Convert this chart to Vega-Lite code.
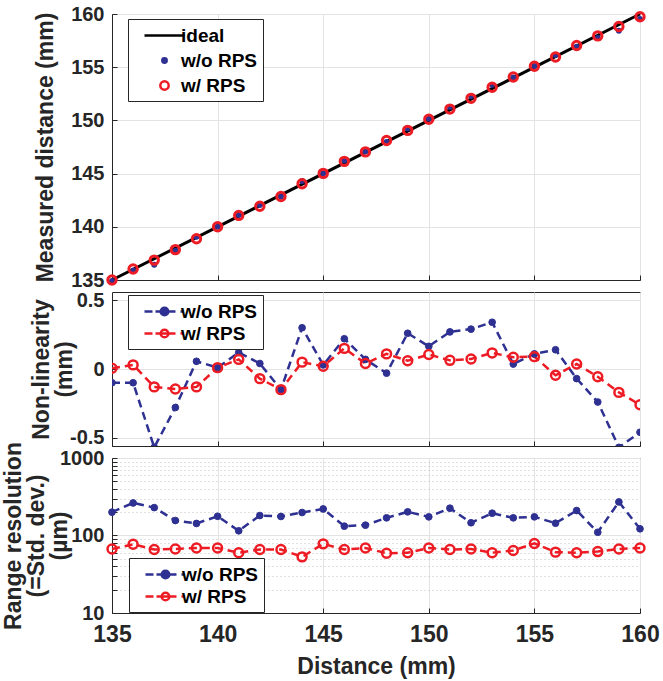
{
  "$schema": "https://vega.github.io/schema/vega-lite/v6.json",
  "background": "white",
  "padding": {"left": 1, "top": 3, "right": 6, "bottom": 2},
  "spacing": 12,
  "bounds": "flush",
  "datasets": {
    "ideal": [{"d": 135, "v": 135, "s": "ideal"}, {"d": 160, "v": 160, "s": "ideal"}],
    "meas": [
      {"d": 135, "s": "w/o RPS", "v": 134.90}, {"d": 136, "s": "w/o RPS", "v": 135.90}, {"d": 137, "s": "w/o RPS", "v": 136.43}, {"d": 138, "s": "w/o RPS", "v": 137.72}, {"d": 139, "s": "w/o RPS", "v": 139.056}, {"d": 140, "s": "w/o RPS", "v": 140.01}, {"d": 141, "s": "w/o RPS", "v": 141.12}, {"d": 142, "s": "w/o RPS", "v": 142.04}, {"d": 143, "s": "w/o RPS", "v": 142.85}, {"d": 144, "s": "w/o RPS", "v": 144.30}, {"d": 145, "s": "w/o RPS", "v": 145.03}, {"d": 146, "s": "w/o RPS", "v": 146.22}, {"d": 147, "s": "w/o RPS", "v": 147.07}, {"d": 148, "s": "w/o RPS", "v": 147.97}, {"d": 149, "s": "w/o RPS", "v": 149.26}, {"d": 150, "s": "w/o RPS", "v": 150.165}, {"d": 151, "s": "w/o RPS", "v": 151.27}, {"d": 152, "s": "w/o RPS", "v": 152.29}, {"d": 153, "s": "w/o RPS", "v": 153.34}, {"d": 154, "s": "w/o RPS", "v": 154.036}, {"d": 155, "s": "w/o RPS", "v": 155.11}, {"d": 156, "s": "w/o RPS", "v": 156.14}, {"d": 157, "s": "w/o RPS", "v": 156.93}, {"d": 158, "s": "w/o RPS", "v": 157.76}, {"d": 159, "s": "w/o RPS", "v": 158.43}, {"d": 160, "s": "w/o RPS", "v": 159.54},
      {"d": 135, "s": "w/ RPS", "v": 135.005}, {"d": 136, "s": "w/ RPS", "v": 136.03}, {"d": 137, "s": "w/ RPS", "v": 136.87}, {"d": 138, "s": "w/ RPS", "v": 137.855}, {"d": 139, "s": "w/ RPS", "v": 138.87}, {"d": 140, "s": "w/ RPS", "v": 140.01}, {"d": 141, "s": "w/ RPS", "v": 141.07}, {"d": 142, "s": "w/ RPS", "v": 141.93}, {"d": 143, "s": "w/ RPS", "v": 142.85}, {"d": 144, "s": "w/ RPS", "v": 144.05}, {"d": 145, "s": "w/ RPS", "v": 145.02}, {"d": 146, "s": "w/ RPS", "v": 146.15}, {"d": 147, "s": "w/ RPS", "v": 147.04}, {"d": 148, "s": "w/ RPS", "v": 148.11}, {"d": 149, "s": "w/ RPS", "v": 149.06}, {"d": 150, "s": "w/ RPS", "v": 150.105}, {"d": 151, "s": "w/ RPS", "v": 151.063}, {"d": 152, "s": "w/ RPS", "v": 152.073}, {"d": 153, "s": "w/ RPS", "v": 153.117}, {"d": 154, "s": "w/ RPS", "v": 154.085}, {"d": 155, "s": "w/ RPS", "v": 155.09}, {"d": 156, "s": "w/ RPS", "v": 155.954}, {"d": 157, "s": "w/ RPS", "v": 157.036}, {"d": 158, "s": "w/ RPS", "v": 157.944}, {"d": 159, "s": "w/ RPS", "v": 158.83}, {"d": 160, "s": "w/ RPS", "v": 159.74}
    ],
    "nl": [
      {"d": 135, "s": "w/o RPS", "v": -0.10}, {"d": 136, "s": "w/o RPS", "v": -0.10}, {"d": 137, "s": "w/o RPS", "v": -0.57}, {"d": 138, "s": "w/o RPS", "v": -0.28}, {"d": 139, "s": "w/o RPS", "v": 0.056}, {"d": 140, "s": "w/o RPS", "v": 0.01}, {"d": 141, "s": "w/o RPS", "v": 0.12}, {"d": 142, "s": "w/o RPS", "v": 0.04}, {"d": 143, "s": "w/o RPS", "v": -0.15}, {"d": 144, "s": "w/o RPS", "v": 0.30}, {"d": 145, "s": "w/o RPS", "v": 0.03}, {"d": 146, "s": "w/o RPS", "v": 0.22}, {"d": 147, "s": "w/o RPS", "v": 0.07}, {"d": 148, "s": "w/o RPS", "v": -0.03}, {"d": 149, "s": "w/o RPS", "v": 0.26}, {"d": 150, "s": "w/o RPS", "v": 0.165}, {"d": 151, "s": "w/o RPS", "v": 0.27}, {"d": 152, "s": "w/o RPS", "v": 0.29}, {"d": 153, "s": "w/o RPS", "v": 0.34}, {"d": 154, "s": "w/o RPS", "v": 0.036}, {"d": 155, "s": "w/o RPS", "v": 0.11}, {"d": 156, "s": "w/o RPS", "v": 0.14}, {"d": 157, "s": "w/o RPS", "v": -0.07}, {"d": 158, "s": "w/o RPS", "v": -0.24}, {"d": 159, "s": "w/o RPS", "v": -0.57}, {"d": 160, "s": "w/o RPS", "v": -0.46},
      {"d": 135, "s": "w/ RPS", "v": 0.005}, {"d": 136, "s": "w/ RPS", "v": 0.03}, {"d": 137, "s": "w/ RPS", "v": -0.13}, {"d": 138, "s": "w/ RPS", "v": -0.145}, {"d": 139, "s": "w/ RPS", "v": -0.13}, {"d": 140, "s": "w/ RPS", "v": 0.01}, {"d": 141, "s": "w/ RPS", "v": 0.07}, {"d": 142, "s": "w/ RPS", "v": -0.07}, {"d": 143, "s": "w/ RPS", "v": -0.15}, {"d": 144, "s": "w/ RPS", "v": 0.05}, {"d": 145, "s": "w/ RPS", "v": 0.02}, {"d": 146, "s": "w/ RPS", "v": 0.15}, {"d": 147, "s": "w/ RPS", "v": 0.04}, {"d": 148, "s": "w/ RPS", "v": 0.11}, {"d": 149, "s": "w/ RPS", "v": 0.06}, {"d": 150, "s": "w/ RPS", "v": 0.105}, {"d": 151, "s": "w/ RPS", "v": 0.063}, {"d": 152, "s": "w/ RPS", "v": 0.073}, {"d": 153, "s": "w/ RPS", "v": 0.117}, {"d": 154, "s": "w/ RPS", "v": 0.085}, {"d": 155, "s": "w/ RPS", "v": 0.09}, {"d": 156, "s": "w/ RPS", "v": -0.046}, {"d": 157, "s": "w/ RPS", "v": 0.036}, {"d": 158, "s": "w/ RPS", "v": -0.056}, {"d": 159, "s": "w/ RPS", "v": -0.17}, {"d": 160, "s": "w/ RPS", "v": -0.26}
    ],
    "res": [
      {"d": 135, "s": "w/o RPS", "v": 200}, {"d": 136, "s": "w/o RPS", "v": 263}, {"d": 137, "s": "w/o RPS", "v": 229}, {"d": 138, "s": "w/o RPS", "v": 156}, {"d": 139, "s": "w/o RPS", "v": 143}, {"d": 140, "s": "w/o RPS", "v": 177}, {"d": 141, "s": "w/o RPS", "v": 115}, {"d": 142, "s": "w/o RPS", "v": 181}, {"d": 143, "s": "w/o RPS", "v": 176}, {"d": 144, "s": "w/o RPS", "v": 198}, {"d": 145, "s": "w/o RPS", "v": 220}, {"d": 146, "s": "w/o RPS", "v": 132}, {"d": 147, "s": "w/o RPS", "v": 136}, {"d": 148, "s": "w/o RPS", "v": 169}, {"d": 149, "s": "w/o RPS", "v": 202}, {"d": 150, "s": "w/o RPS", "v": 174}, {"d": 151, "s": "w/o RPS", "v": 225}, {"d": 152, "s": "w/o RPS", "v": 146}, {"d": 153, "s": "w/o RPS", "v": 194}, {"d": 154, "s": "w/o RPS", "v": 169}, {"d": 155, "s": "w/o RPS", "v": 174}, {"d": 156, "s": "w/o RPS", "v": 144}, {"d": 157, "s": "w/o RPS", "v": 210}, {"d": 158, "s": "w/o RPS", "v": 110}, {"d": 159, "s": "w/o RPS", "v": 271}, {"d": 160, "s": "w/o RPS", "v": 122},
      {"d": 135, "s": "w/ RPS", "v": 67}, {"d": 136, "s": "w/ RPS", "v": 77}, {"d": 137, "s": "w/ RPS", "v": 66}, {"d": 138, "s": "w/ RPS", "v": 67}, {"d": 139, "s": "w/ RPS", "v": 69}, {"d": 140, "s": "w/ RPS", "v": 69}, {"d": 141, "s": "w/ RPS", "v": 60}, {"d": 142, "s": "w/ RPS", "v": 66}, {"d": 143, "s": "w/ RPS", "v": 66}, {"d": 144, "s": "w/ RPS", "v": 53}, {"d": 145, "s": "w/ RPS", "v": 78}, {"d": 146, "s": "w/ RPS", "v": 66}, {"d": 147, "s": "w/ RPS", "v": 69}, {"d": 148, "s": "w/ RPS", "v": 59}, {"d": 149, "s": "w/ RPS", "v": 60}, {"d": 150, "s": "w/ RPS", "v": 69}, {"d": 151, "s": "w/ RPS", "v": 66}, {"d": 152, "s": "w/ RPS", "v": 67}, {"d": 153, "s": "w/ RPS", "v": 60}, {"d": 154, "s": "w/ RPS", "v": 64}, {"d": 155, "s": "w/ RPS", "v": 79}, {"d": 156, "s": "w/ RPS", "v": 61}, {"d": 157, "s": "w/ RPS", "v": 60}, {"d": 158, "s": "w/ RPS", "v": 62}, {"d": 159, "s": "w/ RPS", "v": 67}, {"d": 160, "s": "w/ RPS", "v": 69}
    ]
  },
  "config": {
    "font": "Liberation Sans",
    "view": {"stroke": "#262626", "strokeWidth": 1},
    "axis": {
      "labelFontSize": 20, "labelFontWeight": "bold", "labelColor": "#262626",
      "titleFontSize": 23, "titleFontWeight": "bold", "titleColor": "#262626",
      "domainColor": "#262626", "tickColor": "#262626", "gridColor": "#e3e3e3",
      "tickSize": -5, "labelPadding": 13, "labelOverlap": false, "labelFlush": false, "titleLineHeight": 23
    },
    "legend": {
      "symbolSize": 400, "symbolOffset": 20, "labelOffset": 5,
      "padding": 5, "strokeColor": "#262626", "fillColor": "white",
      "labelFontSize": 19, "labelFontWeight": "bold", "labelColor": "#000000",
      "symbolStrokeWidth": 2.5, "symbolOpacity": 1
    }
  },
  "vconcat": [
    {
      "width": 528, "height": 266,
      "layer": [
        {
          "data": {"name": "ideal"},
          "mark": {"type": "line", "strokeWidth": 3},
          "encoding": {
            "x": {"field": "d", "type": "quantitative", "scale": {"domain": [135, 160], "nice": false, "zero": false}, "axis": {"values": [135, 140, 145, 150, 155, 160], "labels": false, "title": null}},
            "y": {"field": "v", "type": "quantitative", "scale": {"domain": [135, 160], "nice": false, "zero": false}, "axis": {"values": [135, 140, 145, 150, 155, 160], "title": "Measured distance (mm)", "titleX": -55}},
            "stroke": {"field": "s", "type": "nominal", "scale": {"domain": ["ideal", "w/o RPS", "w/ RPS"], "range": ["#000000", "#2E3192", "#ED1C24"]},
              "legend": {"orient": "none", "legendX": 16, "legendY": 5, "rowPadding": 3, "title": null}}
          }
        },
        {
          "data": {"name": "meas"},
          "transform": [{"filter": "datum.s == 'w/o RPS'"}],
          "mark": {"type": "point", "size": 400, "strokeWidth": 1.5, "opacity": 1},
          "encoding": {
            "x": {"field": "d", "type": "quantitative"},
            "y": {"field": "v", "type": "quantitative"},
            "stroke": {"field": "s", "type": "nominal"},
            "fill": {"field": "s", "type": "nominal", "scale": {"domain": ["ideal", "w/o RPS", "w/ RPS"], "range": ["transparent", "#2E3192", "transparent"]}, "legend": {"orient": "none", "legendX": 16, "legendY": 5, "rowPadding": 3, "title": null}},
            "shape": {"field": "s", "type": "nominal", "scale": {"domain": ["ideal", "w/o RPS", "w/ RPS"], "range": ["M-2,0L2,0", "M0.22,0A0.22,0.22,0,1,1,-0.22,0A0.22,0.22,0,1,1,0.22,0Z", "M0.42,0A0.42,0.42,0,1,1,-0.42,0A0.42,0.42,0,1,1,0.42,0Z"]}, "legend": {"orient": "none", "legendX": 16, "legendY": 5, "rowPadding": 3, "title": null}}
          }
        },
        {
          "data": {"name": "meas"},
          "transform": [{"filter": "datum.s == 'w/ RPS'"}],
          "mark": {"type": "point", "size": 400, "strokeWidth": 3, "opacity": 1},
          "encoding": {
            "x": {"field": "d", "type": "quantitative"},
            "y": {"field": "v", "type": "quantitative"},
            "stroke": {"field": "s", "type": "nominal"},
            "fill": {"field": "s", "type": "nominal"},
            "shape": {"field": "s", "type": "nominal"}
          }
        }
      ]
    },
    {
      "width": 528, "height": 154,
      "layer": [
        {
          "data": {"name": "nl"},
          "mark": {"type": "line", "strokeWidth": 2.5, "strokeDash": [8, 5], "clip": true},
          "encoding": {
            "x": {"field": "d", "type": "quantitative", "scale": {"domain": [135, 160], "nice": false, "zero": false}, "axis": {"values": [135, 140, 145, 150, 155, 160], "labels": false, "title": null}},
            "y": {"field": "v", "type": "quantitative", "scale": {"domain": [-0.56, 0.56], "nice": false, "zero": false}, "axis": {"values": [-0.5, 0, 0.5], "labelExpr": "toString(datum.value)", "title": ["Non-linearity", "(mm)"], "titleX": -59}},
            "stroke": {"field": "s", "type": "nominal", "scale": {"domain": ["w/o RPS", "w/ RPS"], "range": ["#2E3192", "#ED1C24"]},
              "legend": {"orient": "none", "legendX": 16, "legendY": 3, "rowPadding": 0, "title": null, "symbolType": "M-2,0L-1.2,0M-0.9,0L1.1,0M1.6,0L1.9,0M0.38,0A0.38,0.38,0,1,1,-0.38,0A0.38,0.38,0,1,1,0.38,0Z", "symbolDash": []}}
          }
        },
        {
          "data": {"name": "nl"},
          "transform": [{"filter": "datum.s == 'w/o RPS'"}],
          "mark": {"type": "point", "size": 45, "strokeWidth": 1, "opacity": 1, "clip": true},
          "encoding": {
            "x": {"field": "d", "type": "quantitative"},
            "y": {"field": "v", "type": "quantitative"},
            "stroke": {"field": "s", "type": "nominal"},
            "fill": {"field": "s", "type": "nominal", "scale": {"domain": ["w/o RPS", "w/ RPS"], "range": ["#2E3192", "transparent"]}, "legend": {"orient": "none", "legendX": 16, "legendY": 3, "rowPadding": 0, "title": null, "symbolType": "M-2,0L-1.2,0M-0.9,0L1.1,0M1.6,0L1.9,0M0.38,0A0.38,0.38,0,1,1,-0.38,0A0.38,0.38,0,1,1,0.38,0Z", "symbolDash": []}}
          }
        },
        {
          "data": {"name": "nl"},
          "transform": [{"filter": "datum.s == 'w/ RPS'"}],
          "mark": {"type": "point", "size": 80, "strokeWidth": 2.5, "opacity": 1, "clip": true},
          "encoding": {
            "x": {"field": "d", "type": "quantitative"},
            "y": {"field": "v", "type": "quantitative"},
            "stroke": {"field": "s", "type": "nominal"},
            "fill": {"field": "s", "type": "nominal"}
          }
        }
      ]
    },
    {
      "width": 528, "height": 155,
      "layer": [
        {
          "data": {"name": "res"},
          "mark": {"type": "line", "strokeWidth": 2.5, "strokeDash": [8, 5]},
          "encoding": {
            "x": {"field": "d", "type": "quantitative", "scale": {"domain": [135, 160], "nice": false, "zero": false}, "axis": {"values": [135, 140, 145, 150, 155, 160], "labelFontSize": 23, "labelPadding": 15, "title": "Distance (mm)", "titlePadding": 9}},
            "y": {"field": "v", "type": "quantitative", "scale": {"type": "log", "domain": [10, 1000], "nice": false}, "axis": {
              "values": [10, 20, 30, 40, 50, 60, 70, 80, 90, 100, 200, 300, 400, 500, 600, 700, 800, 900, 1000],
              "labelExpr": "(datum.value == 10 || datum.value == 100 || datum.value == 1000) ? toString(datum.value) : ''",
              "gridDash": {"condition": {"test": "datum.value == 10 || datum.value == 100 || datum.value == 1000", "value": []}, "value": [1, 3]},
              "gridColor": {"condition": {"test": "datum.value == 10 || datum.value == 100 || datum.value == 1000", "value": "#e3e3e3"}, "value": "#c0c0c0"},
              "title": ["Range resolution", "(=Std. dev.)", "(µm)"], "titleX": -87}},
            "stroke": {"field": "s", "type": "nominal", "scale": {"domain": ["w/o RPS", "w/ RPS"], "range": ["#2E3192", "#ED1C24"]},
              "legend": {"orient": "none", "legendX": 17, "legendY": 100, "rowPadding": 0, "title": null, "symbolType": "M-2,0L-1.2,0M-0.9,0L1.1,0M1.6,0L1.9,0M0.38,0A0.38,0.38,0,1,1,-0.38,0A0.38,0.38,0,1,1,0.38,0Z", "symbolDash": []}}
          }
        },
        {
          "data": {"name": "res"},
          "transform": [{"filter": "datum.s == 'w/o RPS'"}],
          "mark": {"type": "point", "size": 45, "strokeWidth": 1, "opacity": 1},
          "encoding": {
            "x": {"field": "d", "type": "quantitative"},
            "y": {"field": "v", "type": "quantitative"},
            "stroke": {"field": "s", "type": "nominal"},
            "fill": {"field": "s", "type": "nominal", "scale": {"domain": ["w/o RPS", "w/ RPS"], "range": ["#2E3192", "transparent"]}, "legend": {"orient": "none", "legendX": 17, "legendY": 100, "rowPadding": 0, "title": null, "symbolType": "M-2,0L-1.2,0M-0.9,0L1.1,0M1.6,0L1.9,0M0.38,0A0.38,0.38,0,1,1,-0.38,0A0.38,0.38,0,1,1,0.38,0Z", "symbolDash": []}}
          }
        },
        {
          "data": {"name": "res"},
          "transform": [{"filter": "datum.s == 'w/ RPS'"}],
          "mark": {"type": "point", "size": 80, "strokeWidth": 2.5, "opacity": 1},
          "encoding": {
            "x": {"field": "d", "type": "quantitative"},
            "y": {"field": "v", "type": "quantitative"},
            "stroke": {"field": "s", "type": "nominal"},
            "fill": {"field": "s", "type": "nominal"}
          }
        }
      ]
    }
  ],
  "resolve": {"scale": {"stroke": "independent", "fill": "independent", "shape": "independent"}}
}
